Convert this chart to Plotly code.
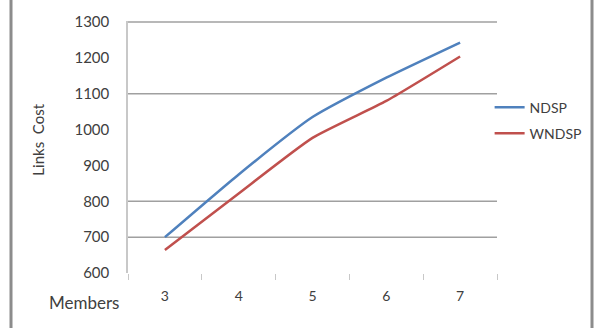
import plotly.graph_objects as go

members = ["3", "4", "5", "6", "7"]
ndsp = [700, 875, 1035, 1145, 1243]
wndsp = [664, 822, 977, 1080, 1204]
y_ticks = [600, 700, 800, 900, 1000, 1100, 1200, 1300]
grid_values = [700, 800, 1100, 1300]

W, H = 602, 328
L, R, T, B = 128, 105, 16, 55
FONT = "Lato"
TXT = "#404040"

fig = go.Figure()
fig.add_trace(go.Scatter(x=members, y=ndsp, name="NDSP", mode="lines",
                         line=dict(color="#4F81BD", width=2.5, shape="spline", smoothing=0.5),
                         legendgroup="a"))
fig.add_trace(go.Scatter(x=members, y=wndsp, name="WNDSP", mode="lines",
                         line=dict(color="#C0504D", width=2.5, shape="spline", smoothing=0.5),
                         legendgroup="b"))

shapes = [
    dict(type="line", xref="paper", yref="y", x0=0, x1=1, y0=g, y1=g, layer="below",
         line=dict(color="#a0a0a0", width=1.5))
    for g in grid_values
]
for xp in (11, 592):
    xx = (xp - L) / (W - L - R)
    shapes.append(dict(type="line", xref="paper", yref="paper", x0=xx, x1=xx, y0=-1, y1=2,
                       line=dict(color="#8c8c8c", width=3)))

fig.update_layout(
    width=W, height=H,
    margin=dict(l=L, r=R, t=T, b=B),
    paper_bgcolor="white", plot_bgcolor="white",
    font=dict(family=FONT, color=TXT, size=14),
    xaxis=dict(type="category", range=[-0.5, 4.5], showgrid=False, showline=False,
               zeroline=False, ticks="outside", tickson="boundaries", ticklen=6,
               tickcolor="#c8c8c8", tickwidth=1, ticklabelstandoff=13,
               tickfont=dict(size=14, color=TXT)),
    yaxis=dict(range=[600, 1303], tickvals=y_ticks, showgrid=False, zeroline=False,
               showline=True, linecolor="#c8c8c8", linewidth=1.5, ticks="",
               ticklabelstandoff=14, tickfont=dict(size=15, color=TXT)),
    legend=dict(x=0.98, y=0.72, xanchor="left", yanchor="top",
                bgcolor="rgba(0,0,0,0)", font=dict(size=14, color=TXT),
                tracegroupgap=5, traceorder="grouped"),
    showlegend=True,
    annotations=[
        dict(text="Links  Cost", xref="paper", yref="paper",
             x=(38 - L) / (W - L - R), y=(H - B - 137) / (H - T - B),
             textangle=-90, showarrow=False, font=dict(size=15, color=TXT),
             xanchor="center", yanchor="middle"),
        dict(text="Members", xref="paper", yref="paper",
             x=(84 - L) / (W - L - R), y=(H - B - 303) / (H - T - B),
             showarrow=False, font=dict(size=17, color=TXT),
             xanchor="center", yanchor="middle"),
    ],
    shapes=shapes,
)

fig.write_html("out.html")
